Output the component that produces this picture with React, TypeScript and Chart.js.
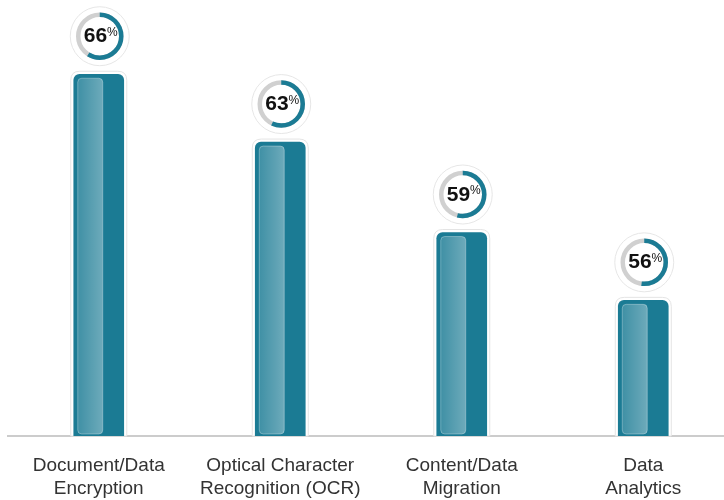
import React, { useEffect, useRef } from "react";
import { Chart, registerables } from "chart.js";

Chart.register(...registerables);

const categories: string[][] = [
  ["Document/Data", "Encryption"],
  ["Optical Character", "Recognition (OCR)"],
  ["Content/Data", "Migration"],
  ["Data", "Analytics"],
];
const values: number[] = [66, 63, 59, 56];
const badgeArcFractions: number[] = [0.59, 0.57, 0.54, 0.52];

const TEAL = "#1b7b94";

function roundRectPath(ctx: CanvasRenderingContext2D, x: number, y: number, w: number, h: number, rTop: number, rBottom: number) {
  ctx.beginPath();
  ctx.moveTo(x + rTop, y);
  ctx.lineTo(x + w - rTop, y);
  ctx.quadraticCurveTo(x + w, y, x + w, y + rTop);
  ctx.lineTo(x + w, y + h - rBottom);
  ctx.quadraticCurveTo(x + w, y + h, x + w - rBottom, y + h);
  ctx.lineTo(x + rBottom, y + h);
  ctx.quadraticCurveTo(x, y + h, x, y + h - rBottom);
  ctx.lineTo(x, y + rTop);
  ctx.quadraticCurveTo(x, y, x + rTop, y);
  ctx.closePath();
}

const decorPlugin = {
  id: "decor",
  beforeDatasetsDraw(chart: any) {
    const ctx = chart.ctx as CanvasRenderingContext2D;
    const meta = chart.getDatasetMeta(0);
    const bottom = chart.chartArea.bottom;
    meta.data.forEach((bar: any) => {
      const half = bar.width / 2 + 3;
      const top = bar.y - 3;
      ctx.save();
      roundRectPath(ctx, bar.x - half, top, half * 2, bottom - top, 9, 0);
      ctx.fillStyle = "#ffffff";
      ctx.fill();
      ctx.strokeStyle = "#e4e4e4";
      ctx.lineWidth = 1;
      ctx.stroke();
      ctx.restore();
    });
  },
  afterDatasetsDraw(chart: any) {
    const ctx = chart.ctx as CanvasRenderingContext2D;
    const meta = chart.getDatasetMeta(0);
    const areaBottom = chart.chartArea.bottom;
    meta.data.forEach((bar: any, i: number) => {
      // inner highlight
      const left = bar.x - bar.width / 2 + 4;
      const w = bar.width / 2;
      const top = bar.y + 4;
      const bottom = areaBottom - 2;
      ctx.save();
      const g = ctx.createLinearGradient(left, 0, left + w, 0);
      g.addColorStop(0, "rgba(255,255,255,0.16)");
      g.addColorStop(1, "rgba(255,255,255,0.36)");
      roundRectPath(ctx, left, top, w, bottom - top, 4, 4);
      ctx.fillStyle = g;
      ctx.fill();
      ctx.strokeStyle = "rgba(255,255,255,0.3)";
      ctx.lineWidth = 1;
      ctx.stroke();

      // badge
      const cx = bar.x + 1;
      const cy = bar.y - 38;
      ctx.beginPath();
      ctx.arc(cx, cy, 29.5, 0, Math.PI * 2);
      ctx.fillStyle = "#ffffff";
      ctx.fill();
      ctx.strokeStyle = "#e6e6e6";
      ctx.lineWidth = 1;
      ctx.stroke();

      ctx.beginPath();
      ctx.arc(cx, cy, 21.5, 0, Math.PI * 2);
      ctx.strokeStyle = "#d0d0d0";
      ctx.lineWidth = 4.5;
      ctx.stroke();

      const frac = badgeArcFractions[i];
      ctx.beginPath();
      ctx.arc(cx, cy, 21.5, -Math.PI / 2, -Math.PI / 2 + frac * Math.PI * 2);
      ctx.strokeStyle = TEAL;
      ctx.lineWidth = 4.5;
      ctx.stroke();

      const num = String(values[i]);
      ctx.font = "bold 21px 'Liberation Sans', Arial, sans-serif";
      const w1 = ctx.measureText(num).width;
      ctx.font = "12px 'Liberation Sans', Arial, sans-serif";
      const w2 = ctx.measureText("%").width;
      const startX = cx - (w1 + w2) / 2 + 1;
      const base = cy + 6;
      ctx.fillStyle = "#111111";
      ctx.textBaseline = "alphabetic";
      ctx.textAlign = "left";
      ctx.font = "bold 21px 'Liberation Sans', Arial, sans-serif";
      ctx.fillText(num, startX, base);
      ctx.font = "12px 'Liberation Sans', Arial, sans-serif";
      ctx.fillText("%", startX + w1, base - 6.5);
      ctx.restore();
    });
  },
};

export default function App() {
  const ref = useRef<HTMLCanvasElement | null>(null);
  useEffect(() => {
    if (!ref.current) return;
    const chart = new Chart(ref.current, {
      type: "bar",
      data: {
        labels: categories,
        datasets: [
          {
            data: values,
            backgroundColor: TEAL,
            borderWidth: 0,
            borderRadius: { topLeft: 6, topRight: 6, bottomLeft: 0, bottomRight: 0 },
            borderSkipped: false,
            barThickness: 50,
          },
        ],
      },
      options: {
        animation: false,
        responsive: true,
        maintainAspectRatio: false,
        layout: { padding: { top: 29, left: 8, right: 0, bottom: 0 } },
        plugins: { legend: { display: false }, tooltip: { enabled: false } },
        scales: {
          y: { display: false, min: 50, max: 68 },
          x: {
            afterFit: (scale: any) => {
              scale.height = 64;
            },
            grid: { display: false, drawTicks: false },
            border: { display: true, color: "#cccccc", width: 2 },
            ticks: {
              color: "#333333",
              padding: 18,
              maxRotation: 0,
              autoSkip: false,
              font: { family: "'Liberation Sans', Arial, sans-serif", size: 19, lineHeight: 1.21 },
            },
          },
        },
      },
      plugins: [decorPlugin],
    });
    return () => chart.destroy();
  }, []);
  return (
    <div style={{ position: "fixed", left: 0, top: 0, width: 724, height: 500, overflow: "hidden", background: "#fff" }}>
      <div style={{ position: "absolute", left: 0, top: 0, width: 734, height: 500 }}>
        <canvas ref={ref} />
      </div>
    </div>
  );
}
